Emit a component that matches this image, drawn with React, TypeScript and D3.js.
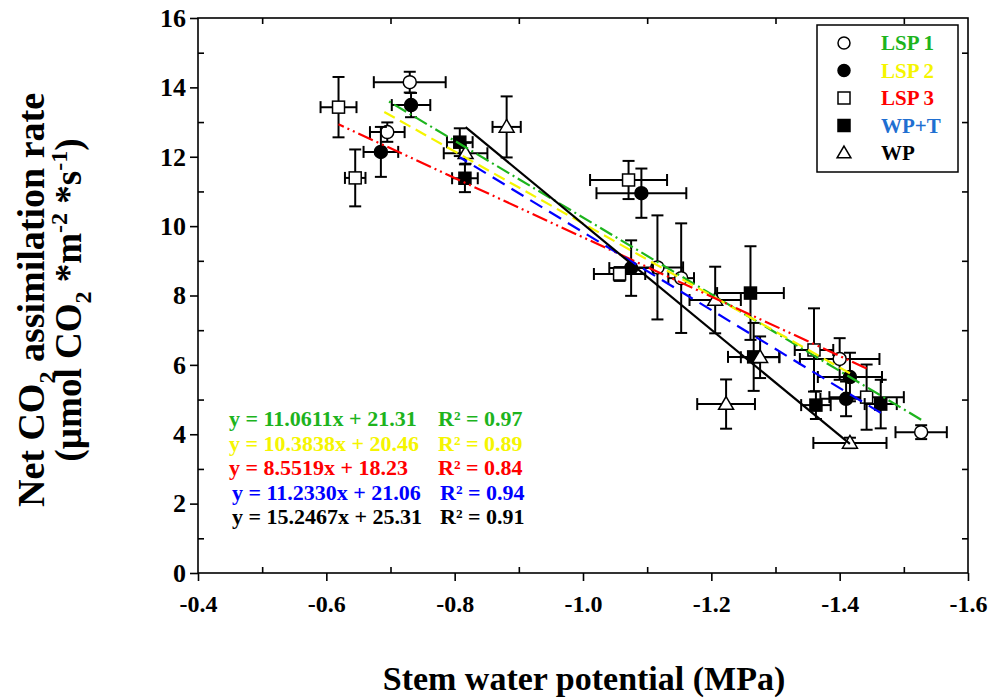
import React, { useRef, useEffect } from 'react';
import * as d3 from 'd3';

// [x, y, xErr, yErr] per point
const lsp1: number[][] = [
  [-0.730, 14.15, 0.056, 0.3], [-0.695, 12.71, 0.027, 0.28], [-1.116, 8.81, 0.04, 1.5],
  [-1.153, 8.50, 0.02, 1.58], [-1.400, 6.17, 0.062, 0.6], [-1.527, 4.06, 0.04, 0.2],
];
const lsp2: number[][] = [
  [-0.732, 13.49, 0.03, 0.35], [-0.685, 12.14, 0.027, 0.72], [-1.091, 10.95, 0.07, 0.71],
  [-1.075, 8.79, 0.034, 0.8], [-1.416, 5.65, 0.05, 0.7], [-1.410, 5.02, 0.04, 0.5],
];
const lsp3: number[][] = [
  [-0.619, 13.43, 0.028, 0.87], [-0.645, 11.39, 0.016, 0.82], [-1.071, 11.33, 0.06, 0.55],
  [-1.057, 8.62, 0.04, 0.2], [-1.360, 6.43, 0.03, 1.2], [-1.442, 5.07, 0.058, 0.94],
];
const wpT: number[][] = [
  [-0.808, 12.42, 0.02, 0.4], [-0.816, 11.38, 0.02, 0.4], [-1.261, 8.07, 0.052, 1.35],
  [-1.266, 6.23, 0.04, 0.98], [-1.363, 4.84, 0.023, 0.4], [-1.464, 4.87, 0.025, 0.7],
];
const wp: number[][] = [
  [-0.881, 12.86, 0.022, 0.88], [-0.817, 12.10, 0.034, 0.3], [-1.206, 7.87, 0.04, 0.96],
  [-1.276, 6.22, 0.03, 0.6], [-1.223, 4.87, 0.045, 0.71], [-1.416, 3.75, 0.057, 0.15],
];

const seriesNames = ['LSP 1', 'LSP 2', 'LSP 3', 'WP+T', 'WP'];
const seriesData = [lsp1, lsp2, lsp3, wpT, wp];
const markers = ['circle-open', 'circle', 'square-open', 'square', 'triangle-open'];
const lineColors = ['#1db41d', '#f5f500', '#ff0000', '#0000ff', '#000000'];
const legendColors = ['#1db41d', '#f5f500', '#ff0000', '#1f6fd1', '#000000'];
const dashes = ['14 4 2 4', '12 6', '16 4 2 4 2 4', '14 8', null];
const slopes = [11.0611, 10.3838, 8.5519, 11.2330, 15.2467];
const intercepts = [21.31, 20.46, 18.23, 21.06, 25.31];
const rSquared = ['0.97', '0.89', '0.84', '0.94', '0.91'];

const xMajor = [-0.4, -0.6, -0.8, -1.0, -1.2, -1.4, -1.6];
const xMinor = [-0.5, -0.7, -0.9, -1.1, -1.3, -1.5];
const yMajor = [0, 2, 4, 6, 8, 10, 12, 14, 16];
const yMinor = [1, 3, 5, 7, 9, 11, 13, 15];

const W = 989;
const H = 698;
const FONT = '"Liberation Serif", "Times New Roman", serif';

function App() {
  const svgRef = useRef<SVGSVGElement>(null);

  useEffect(() => {
    const svg = d3.select(svgRef.current);
    svg.selectAll('*').remove();

    const left = 198, right = 968, top = 18, bottom = 573;
    const x = d3.scaleLinear().domain([-0.4, -1.6]).range([left, right]);
    const y = d3.scaleLinear().domain([0, 16]).range([bottom, top]);

    const g = svg.append('g').attr('font-family', FONT).attr('font-weight', 'bold');

    // frame
    g.append('rect')
      .attr('x', left).attr('y', top)
      .attr('width', right - left).attr('height', bottom - top)
      .attr('fill', 'none').attr('stroke', '#000').attr('stroke-width', 1.6);

    // bottom axis: major outward with labels, minor inward
    const xAx = g.append('g').attr('transform', `translate(0,${bottom})`)
      .call(d3.axisBottom(x).tickValues(xMajor).tickSizeInner(8).tickSizeOuter(0)
        .tickPadding(14).tickFormat(d => (d as number).toFixed(1)));
    xAx.select('.domain').remove();
    xAx.selectAll('line').attr('stroke-width', 1.6);
    xAx.selectAll('text').attr('font-size', 24).attr('font-family', FONT).attr('fill', '#000');

    const xMin = g.append('g').attr('transform', `translate(0,${bottom})`)
      .call(d3.axisTop(x).tickValues(xMinor).tickSize(6).tickFormat(() => ''));
    xMin.select('.domain').remove();
    xMin.selectAll('line').attr('stroke-width', 1.6);

    // top axis: minor inward only
    const xTop = g.append('g').attr('transform', `translate(0,${top})`)
      .call(d3.axisBottom(x).tickValues(xMinor).tickSize(6).tickFormat(() => ''));
    xTop.select('.domain').remove();
    xTop.selectAll('line').attr('stroke-width', 1.6);

    // left axis
    const yAx = g.append('g').attr('transform', `translate(${left},0)`)
      .call(d3.axisLeft(y).tickValues(yMajor).tickSizeInner(8).tickSizeOuter(0).tickPadding(4));
    yAx.select('.domain').remove();
    yAx.selectAll('line').attr('stroke-width', 1.6);
    yAx.selectAll('text').attr('font-size', 26).attr('font-family', FONT).attr('fill', '#000');

    const yMin = g.append('g').attr('transform', `translate(${left},0)`)
      .call(d3.axisRight(y).tickValues(yMinor).tickSize(6).tickFormat(() => ''));
    yMin.select('.domain').remove();
    yMin.selectAll('line').attr('stroke-width', 1.6);

    const yRight = g.append('g').attr('transform', `translate(${right},0)`)
      .call(d3.axisLeft(y).tickValues(yMinor).tickSize(6).tickFormat(() => ''));
    yRight.select('.domain').remove();
    yRight.selectAll('line').attr('stroke-width', 1.6);

    // axis titles
    g.append('text')
      .attr('x', 584).attr('y', 690)
      .attr('text-anchor', 'middle').attr('font-size', 34)
      .text('Stem water potential (MPa)');

    const midY = 300;
    const t1 = g.append('text')
      .attr('transform', `translate(44,${midY}) rotate(-90)`)
      .attr('text-anchor', 'middle').attr('font-size', 38);
    t1.append('tspan').text('Net CO');
    t1.append('tspan').attr('font-size', 24).attr('dy', 11).text('2');
    t1.append('tspan').attr('dy', -11).text(' assimilation rate');

    const t2 = g.append('text')
      .attr('transform', `translate(81,${midY}) rotate(-90)`)
      .attr('text-anchor', 'middle').attr('font-size', 37);
    t2.append('tspan').text('(µmol CO');
    t2.append('tspan').attr('font-size', 24).attr('dy', 10).text('2');
    t2.append('tspan').attr('dy', -10).text(' *m');
    t2.append('tspan').attr('font-size', 24).attr('dy', -14).text('-2');
    t2.append('tspan').attr('dy', 14).text(' *s');
    t2.append('tspan').attr('font-size', 24).attr('dy', -14).text('-1');
    t2.append('tspan').attr('dy', 14).text(')');

    const drawMarker = (sel: any, type: string, cx: number, cy: number, s: number) => {
      const fill = type.endsWith('open') ? '#fff' : '#000';
      if (type.startsWith('circle')) {
        sel.append('circle').attr('cx', cx).attr('cy', cy).attr('r', s)
          .attr('fill', fill).attr('stroke', '#000').attr('stroke-width', 1.5);
      } else if (type.startsWith('square')) {
        sel.append('rect').attr('x', cx - s).attr('y', cy - s)
          .attr('width', 2 * s).attr('height', 2 * s)
          .attr('fill', fill).attr('stroke', '#000').attr('stroke-width', 1.5);
      } else {
        const h = s * 1.15;
        sel.append('path')
          .attr('d', `M${cx},${cy - h}L${cx + h},${cy + h * 0.7}L${cx - h},${cy + h * 0.7}Z`)
          .attr('fill', fill).attr('stroke', '#000').attr('stroke-width', 1.5);
      }
    };

    // error bars and markers
    const cap = 6;
    seriesData.forEach((data, si) => {
      const sg = g.append('g');
      data.forEach(([vx, vy, ex, ey]) => {
        const cx = x(vx), cy = y(vy);
        const x0 = x(vx + ex), x1 = x(vx - ex);
        const y0 = y(vy + ey), y1 = y(vy - ey);
        const eb = sg.append('g').attr('stroke', '#000').attr('stroke-width', 2);
        eb.append('line').attr('x1', x0).attr('x2', x1).attr('y1', cy).attr('y2', cy);
        eb.append('line').attr('x1', x0).attr('x2', x0).attr('y1', cy - cap).attr('y2', cy + cap);
        eb.append('line').attr('x1', x1).attr('x2', x1).attr('y1', cy - cap).attr('y2', cy + cap);
        eb.append('line').attr('x1', cx).attr('x2', cx).attr('y1', y0).attr('y2', y1);
        eb.append('line').attr('x1', cx - cap).attr('x2', cx + cap).attr('y1', y0).attr('y2', y0);
        eb.append('line').attr('x1', cx - cap).attr('x2', cx + cap).attr('y1', y1).attr('y2', y1);
      });
      data.forEach(([vx, vy]) => drawMarker(sg, markers[si], x(vx), y(vy), markers[si].startsWith('square') ? 6 : 6.5));
    });

    // regression lines over each series' x range
    seriesData.forEach((data, si) => {
      const ext = d3.extent(data, d => d[0]) as [number, number];
      const pts = ext.map(v => [v, slopes[si] * v + intercepts[si]]);
      const line = d3.line<number[]>().x(d => x(d[0])).y(d => y(d[1]));
      const p = g.append('path').datum(pts)
        .attr('d', line).attr('fill', 'none')
        .attr('stroke', lineColors[si]).attr('stroke-width', 2.2);
      if (dashes[si]) p.attr('stroke-dasharray', dashes[si]);
    });

    // regression equations
    const eqX = 229, r2X = 438, eqY0 = 426, eqStep = 24.5;
    slopes.forEach((s, i) => {
      const yy = eqY0 + i * eqStep;
      g.append('text').attr('x', eqX + (i > 2 ? 3 : 0)).attr('y', yy).attr('font-size', 22)
        .attr('fill', lineColors[i])
        .text(`y = ${s.toFixed(4)}x + ${intercepts[i].toFixed(2)}`);
      g.append('text').attr('x', r2X + (i > 2 ? 2 : 0)).attr('y', yy).attr('font-size', 22)
        .attr('fill', lineColors[i])
        .text(`R² = ${rSquared[i]}`);
    });

    // legend
    const lg = g.append('g');
    lg.append('rect').attr('x', 817).attr('y', 25).attr('width', 141).attr('height', 147)
      .attr('fill', '#fff').attr('stroke', '#000').attr('stroke-width', 1.5);
    seriesNames.forEach((name, i) => {
      const ly = 43 + i * 27.5;
      drawMarker(lg, markers[i], 844, ly, 6);
      lg.append('text').attr('x', 881).attr('y', ly + 7).attr('font-size', 21)
        .attr('fill', legendColors[i]).text(name);
    });
  }, []);

  return (
    <svg
      ref={svgRef}
      width={W}
      height={H}
      viewBox={`0 0 ${W} ${H}`}
      style={{ position: 'absolute', left: 0, top: 0, background: '#fff' }}
    />
  );
}

export default App;
